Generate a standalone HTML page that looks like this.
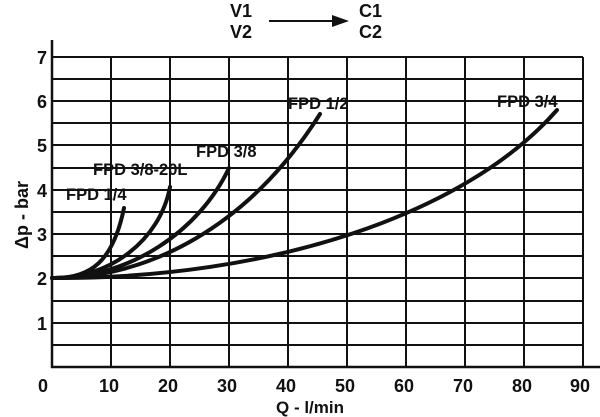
<!DOCTYPE html>
<html><head><meta charset="utf-8"><style>body{margin:0;background:#fff}svg{display:block}text{font-family:"Liberation Sans",sans-serif;font-weight:bold;fill:#111}</style></head>
<body>
<svg width="600" height="417" viewBox="0 0 600 417">
<g stroke="#111" stroke-width="2" fill="none">
<path d="M52,57H583M52,79H583M52,101H583M52,123H583M52,145H583M52,168H583M52,190H583M52,212H583M52,234H583M52,256H583M52,278H583M52,301H583M52,323H583M52,345H583"/>
<path d="M111,57V367M170,57V367M229,57V367M288,57V367M347,57V367M406,57V367M465,57V367M524,57V367M583,57V367"/>
<path d="M52,40V368M51,367H600" stroke-width="2.5"/>
</g>
<g stroke="#111" stroke-width="4" fill="none" stroke-linecap="round">
<path d="M52,278 C90,279 113,262 124,208"/>
<path d="M52,278 C110,279 160,240 170,187"/>
<path d="M52,278 C130,279 200,230 229,168"/>
<path d="M52,278 C150,279 250,225 320,114"/>
<path d="M52,278 C270,279 465,215 557,110"/>
</g>
<line x1="269" y1="21" x2="335" y2="21" stroke="#111" stroke-width="2"/>
<polygon points="332,15 349,21 332,27" fill="#111"/>
<g font-size="18">
<text x="230" y="17">V1</text><text x="230" y="38">V2</text>
<text x="359" y="17">C1</text><text x="359" y="38">C2</text>
</g>
<g font-size="18" text-anchor="end">
<text x="47" y="64">7</text><text x="47" y="108">6</text><text x="47" y="152">5</text><text x="47" y="197">4</text><text x="47" y="241">3</text><text x="47" y="285">2</text><text x="47" y="330">1</text>
</g>
<g font-size="18" text-anchor="middle">
<text x="43" y="392">0</text><text x="109" y="392">10</text><text x="168" y="392">20</text><text x="227" y="392">30</text><text x="286" y="392">40</text><text x="345" y="392">50</text><text x="404" y="392">60</text><text x="463" y="392">70</text><text x="522" y="392">80</text><text x="580" y="392">90</text>
<text x="310" y="413" font-size="17">Q - l/min</text>
<text transform="translate(28,215) rotate(-90)" font-size="18">Δp - bar</text>
</g>
<g font-size="16.5">
<text x="66" y="200">FPD 1/4</text>
<text x="93" y="175">FPD 3/8-20L</text>
<text x="196" y="157">FPD 3/8</text>
<text x="288" y="109">FPD 1/2</text>
<text x="497" y="107">FPD 3/4</text>
</g>
</svg>
</body></html>
